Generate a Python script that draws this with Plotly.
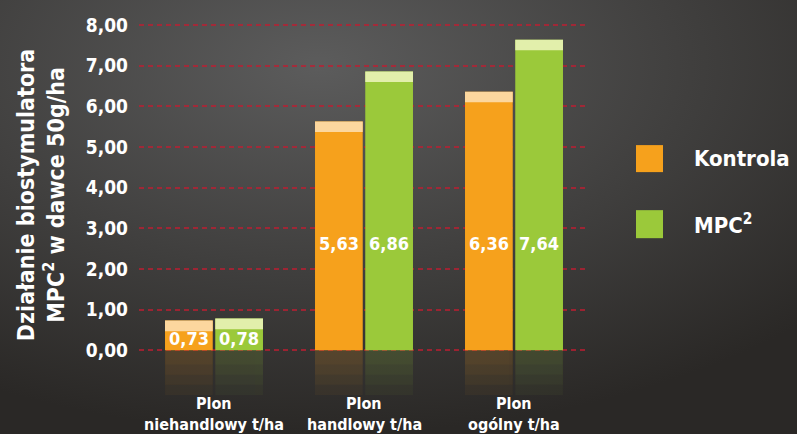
import base64
import plotly.graph_objects as go

categories = ["Plon niehandlowy t/ha", "Plon handlowy t/ha", "Plon ogólny t/ha"]
kontrola = [0.73, 5.63, 6.36]
mpc = [0.78, 6.86, 7.64]
kontrola_labels = ["0,73", "5,63", "6,36"]
mpc_labels = ["0,78", "6,86", "7,64"]
label_y = [0.28, 2.63, 2.63]
y_ticks = [0, 1, 2, 3, 4, 5, 6, 7, 8]
y_tick_labels = ["0,00", "1,00", "2,00", "3,00", "4,00", "5,00", "6,00", "7,00", "8,00"]

FONT = "DejaVu Sans Condensed, Liberation Sans Narrow, sans-serif"
ORANGE = "#f6a11c"
GREEN = "#9bc93a"
CAP = 0.26
REFLECT_DEPTHS = [0.35, 0.6, 0.85, 1.1]

W, H = 797, 434
L, R_px = 139, 589
T, B_px = 21, 394.7
PW, PH = R_px - L, B_px - T

def px(xp):
    return (xp - L) / PW

def py(yp):
    return (B_px - yp) / PH

bg_svg = f'''<svg xmlns="http://www.w3.org/2000/svg" width="{W}" height="{H}">
<defs><radialGradient id="g" cx="40%" cy="15%" r="85%">
<stop offset="0" stop-color="#5c5c5c"/><stop offset="0.55" stop-color="#403f3e"/><stop offset="1" stop-color="#2a2826"/>
</radialGradient></defs><rect width="{W}" height="{H}" fill="url(#g)"/></svg>'''
bg_uri = "data:image/svg+xml;base64," + base64.b64encode(bg_svg.encode()).decode()

fig = go.Figure()
series = [("k", kontrola, ORANGE, "#fcd79e"), ("m", mpc, GREEN, "#e2efab")]
for og, vals, col, cap in series:
    for d in REFLECT_DEPTHS:
        fig.add_trace(go.Bar(x=categories, y=[-d] * len(vals), offsetgroup=og,
                             marker=dict(color=col, line_width=0), opacity=0.045,
                             showlegend=False, hoverinfo="skip"))
    fig.add_trace(go.Bar(x=categories, y=vals, offsetgroup=og,
                         marker=dict(color=col, line_width=0), showlegend=False))
    fig.add_trace(go.Bar(x=categories, y=[CAP] * len(vals), base=[v - CAP for v in vals],
                         offsetgroup=og, marker=dict(color=cap, line_width=0),
                         showlegend=False, hoverinfo="skip"))

for labels, shift in [(kontrola_labels, -25), (mpc_labels, 25)]:
    for c, lab, yy in zip(categories, labels, label_y):
        fig.add_annotation(x=c, y=yy, text=lab, showarrow=False, xshift=shift,
                           font=dict(family=FONT, size=18, color="white", weight="bold"))

for c in categories:
    first, rest = c.split(" ", 1)
    fig.add_annotation(x=c, yref="paper", y=py(403.5), text=first, showarrow=False,
                       yanchor="middle",
                       font=dict(family=FONT, size=16, color="white", weight="bold"))
    fig.add_annotation(x=c, yref="paper", y=py(424), text=rest, showarrow=False,
                       yanchor="middle",
                       font=dict(family=FONT, size=16, color="white", weight="bold"))

fig.add_annotation(xref="paper", yref="paper", x=px(41), y=py(195),
                   text="Działanie biostymulatora<br>MPC<sup>2</sup> w dawce 50g/ha",
                   textangle=-90, showarrow=False, xanchor="center", yanchor="middle",
                   font=dict(family=FONT, size=23, color="white", weight="bold"))

for name, col, y0, y1, yt in [("Kontrola", ORANGE, 145, 172, 158),
                               ("MPC<sup>2</sup>", GREEN, 210, 238, 224)]:
    fig.add_shape(type="rect", xref="paper", yref="paper", x0=px(636), x1=px(663),
                  y0=py(y1), y1=py(y0), fillcolor=col, line_width=0)
    fig.add_annotation(xref="paper", yref="paper", x=px(692), y=py(yt), text=name,
                       showarrow=False, xanchor="left", yanchor="middle",
                       font=dict(family=FONT, size=22, color="white", weight="bold"))

fig.add_layout_image(source=bg_uri, xref="paper", yref="paper", x=px(0), y=py(0),
                     sizex=W / PW, sizey=H / PH, xanchor="left", yanchor="top",
                     sizing="stretch", layer="below")

fig.update_layout(
    width=W, height=H,
    margin=dict(l=L, r=W - R_px, t=T, b=H - B_px, autoexpand=False),
    paper_bgcolor="#333231", plot_bgcolor="rgba(0,0,0,0)",
    barmode="group", bargap=0.33, bargroupgap=0.05,
    showlegend=False,
    xaxis=dict(showgrid=False, zeroline=False, showline=False, ticks="",
               showticklabels=False, automargin=False),
    yaxis=dict(range=[-max(REFLECT_DEPTHS), 8.1], tickvals=y_ticks, ticktext=y_tick_labels,
               showgrid=True, gridcolor="rgba(190,30,50,0.75)", griddash="5px,4px",
               gridwidth=1.5, zeroline=False, showline=False, ticks="",
               ticklabelstandoff=10, automargin=False,
               tickfont=dict(family=FONT, size=19, color="white", weight="bold")),
    font=dict(family=FONT),
)

fig.write_html("out.html")
